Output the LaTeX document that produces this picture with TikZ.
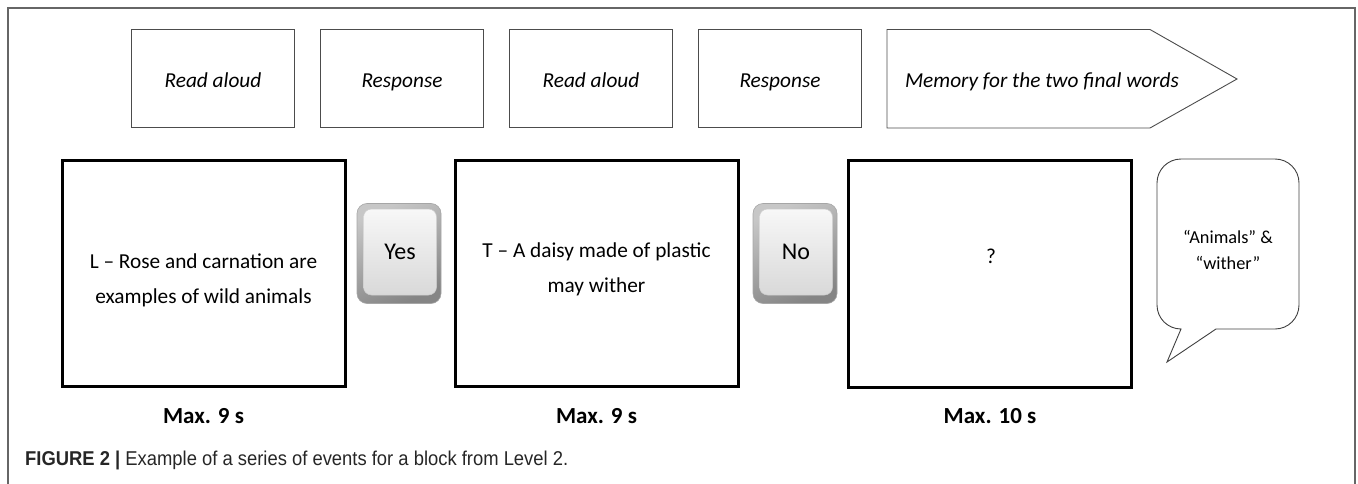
\documentclass[tikz,border=0pt]{standalone}
\usepackage{fontspec}
\setmainfont{Carlito}
\newfontfamily\capfont[FakeStretch=0.92]{Liberation Sans}
\begin{document}
\begin{tikzpicture}[x=1pt,y=-1pt,
  framel/.style={draw=black!60, line width=1.3pt},
  stage/.style={draw=black!70, line width=0.9pt, minimum width=163pt, minimum height=98pt, inner sep=0pt,
    text height=21pt, text depth=2pt, font=\fontsize{21.3}{25}\selectfont\itshape},
  stagetxt/.style={inner sep=0pt, text height=21pt, text depth=2pt, font=\fontsize{21.3}{25}\selectfont\itshape},
  screen/.style={draw=black, line width=3pt, minimum width=283pt, minimum height=226pt, inner sep=0pt},
  scrtxt/.style={align=center, inner sep=0pt, font=\fontsize{21.3}{35}\selectfont},
  keyrim/.style={draw=black!35, line width=0.6pt, rounded corners=10pt, minimum width=84pt, minimum height=100pt,
    inner sep=0pt, top color=black!22, bottom color=black!48, shading angle=25},
  keyface/.style={draw=black!20, line width=0.5pt, rounded corners=8pt, minimum width=73pt, minimum height=86pt,
    inner sep=0pt, top color=black!3, bottom color=black!15, font=\fontsize{24}{28}\selectfont},
  bubble/.style={draw=black!75, line width=0.9pt},
  bubtxt/.style={align=center, inner sep=0pt, font=\fontsize{18.3}{26}\selectfont},
  maxlbl/.style={inner sep=0pt, font=\fontsize{23}{26}\selectfont\bfseries},
  captxt/.style={inner sep=0pt, anchor=base west, text=black!85, font=\capfont\fontsize{20}{24}\selectfont}
]
\useasboundingbox (0,0) rectangle (1358,484);

% outer frame
\coordinate (fbl) at (8,484);
\coordinate (ftl) at (8,8);
\coordinate (ftr) at (1355,8);
\coordinate (fbr) at (1355,484);
\draw[framel] (fbl) -- (ftl) -- (ftr) -- (fbr);

% top stage boxes
\node[stage] (s1) at (213,78.5) {Read aloud};
\node[stage] (s2) at (402,78.5) {Response};
\node[stage] (s3) at (591,78.5) {Read aloud};
\node[stage] (s4) at (780,78.5) {Response};
\draw[draw=black!70, line width=0.9pt] (887,29.5) -- (1150,29.5) -- (1237,79) -- (1150,128) -- (887,128) -- cycle;
\node[stagetxt] (s5) at (1042,78.5) {Memory for the two final words};

% screens
\node[screen] (scA) at (203.5,273.5) {};
\node[scrtxt] (tA) at (203.5,280) {L -- Rose and carnation are\\examples of wild animals};
\node[screen] (scB) at (596.5,273.5) {};
\node[scrtxt] (tB) at (596.5,269) {T -- A daisy made of plastic\\may wither};
\node[screen] (scC) at (990,274) {};
\node[scrtxt] (tC) at (991,256) {?};

% keys
\node[keyrim] (yesrim) at (399,253.5) {};
\node[keyface] (yes) at (400,252) {Yes};
\node[keyrim] (norim) at (795,253.5) {};
\node[keyface] (no) at (796,252) {No};

% speech bubble
\draw[bubble] (1181,329) [rounded corners=24pt] -- (1157,329) -- (1157,159) -- (1299,159) -- (1299,329) [sharp corners] -- (1216,329) -- (1167,362) -- cycle;
\node[bubtxt] (bub) at (1228,250) {``Animals'' \&\\``wither''};

% time labels
\node[maxlbl] (mA) at (203.5,416) {Max. 9 s};
\node[maxlbl] (mB) at (596.5,416) {Max. 9 s};
\node[maxlbl] (mC) at (990,416) {Max. 10 s};

% caption
\node[captxt] (cap) at (25,465) {\textbf{FIGURE 2 |} Example of a series of events for a block from Level 2.};
\end{tikzpicture}
\end{document}
